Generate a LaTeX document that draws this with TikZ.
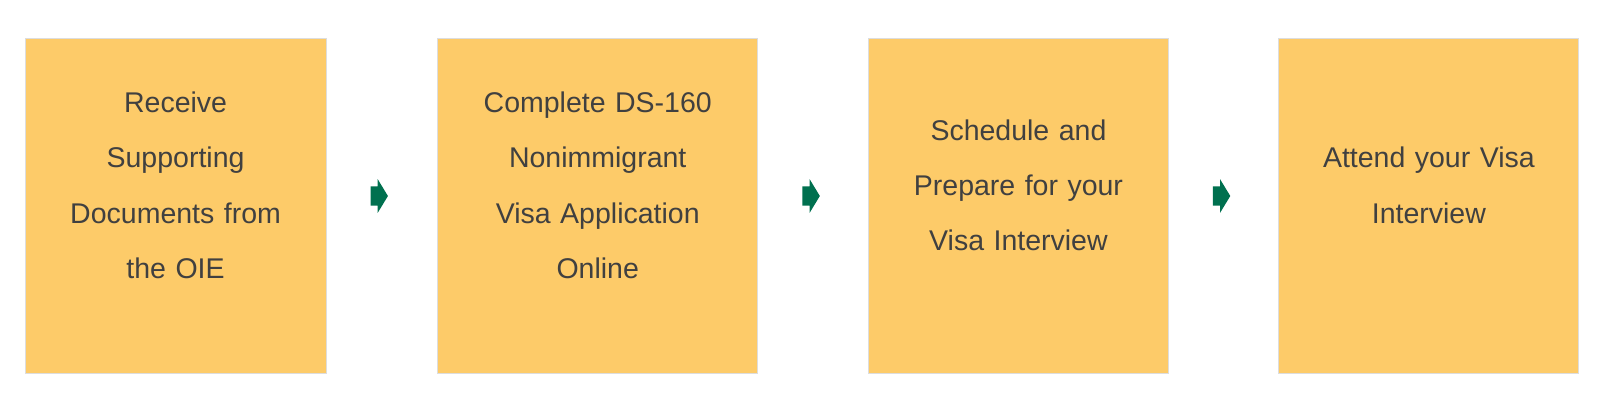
\documentclass[tikz,border=0pt]{standalone}
\usepackage{fontspec}
\setmainfont{Liberation Sans}
\definecolor{boxfill}{HTML}{FDCB69}
\definecolor{boxline}{HTML}{DDDDDD}
\definecolor{arr}{HTML}{00704F}
\definecolor{txt}{HTML}{404040}
\begin{document}
\begin{tikzpicture}[x=1.0235pt,y=-1.0235pt,
  stepbox/.style={draw=boxline,line width=1pt,fill=boxfill,minimum width=301pt,minimum height=334.7pt,anchor=north west,inner sep=0pt},
  label/.style={text=txt,font=\fontsize{28.5}{55.3}\selectfont,align=center,text width=280pt}]
\node[stepbox] (b1) at (24,37) {};
\node[stepbox,minimum width=320.4pt] (b2) at (427,37) {};
\node[stepbox,minimum width=300pt] (b3) at (848,37) {};
\node[stepbox,minimum width=300pt] (b4) at (1249,37) {};
\node[label] (t1) at ([yshift=20.5pt]b1.center) {Receive\\Supporting\\Documents from\\the OIE};
\node[label] (t2) at ([yshift=20.5pt]b2.center) {Complete DS-160\\Nonimmigrant\\Visa Application\\Online};
\node[label] (t3) at ([yshift=20.5pt]b3.center) {Schedule and\\Prepare for your\\Visa Interview};
\node[label] (t4) at ([yshift=20.5pt]b4.center) {Attend your Visa\\Interview};
\foreach \x in {362,784,1185}{
  \fill[arr] (\x,182) -- (\x+7,182) -- (\x+7,175) -- (\x+17,191.5) -- (\x+7,208) -- (\x+7,201) -- (\x,201) -- cycle;
}
\pgfresetboundingbox
\useasboundingbox (0,0) rectangle (1569.1,406.4);
\end{tikzpicture}
\end{document}
